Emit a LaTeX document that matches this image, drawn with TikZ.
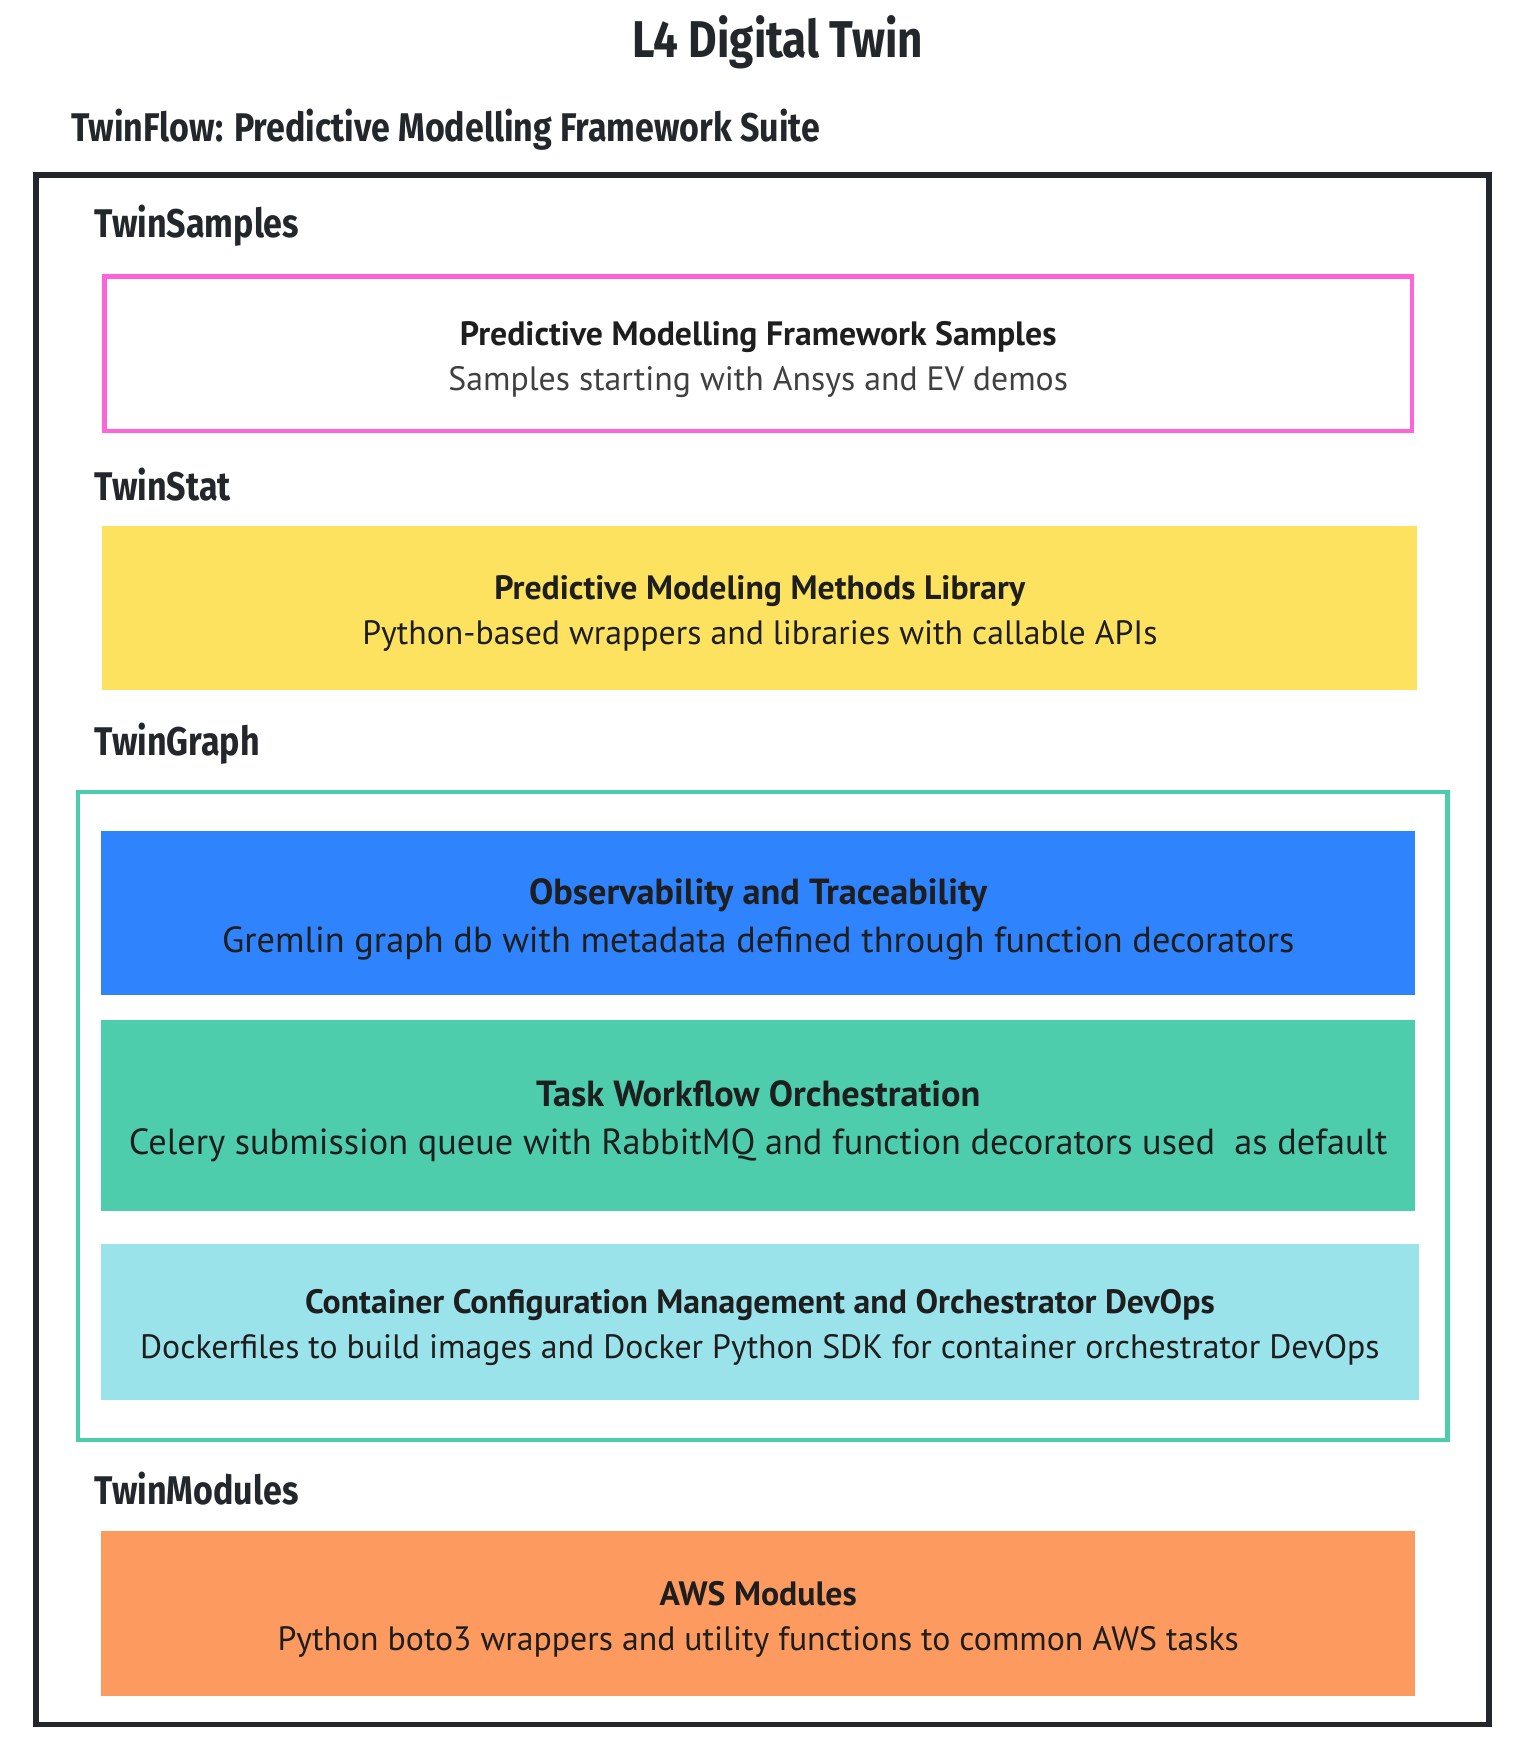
\documentclass[tikz,border=0pt]{standalone}
\usepackage{fontspec}
\setmainfont{PT Sans}
\newfontfamily\headfont[FakeStretch=0.85]{Fira Sans}
\definecolor{inkdark}{HTML}{23272B}
\definecolor{boxtext}{HTML}{1E1E1E}
\definecolor{pinkline}{HTML}{FF63D8}
\definecolor{yellowfill}{HTML}{FDE260}
\definecolor{tealline}{HTML}{4ECDAC}
\definecolor{bluefill}{HTML}{2F83FD}
\definecolor{cyanfill}{HTML}{9BE3EA}
\definecolor{orangefill}{HTML}{FD9A5F}
\newcommand{\boxhead}[1]{\rule{0pt}{1.05em}\textbf{#1}}
\tikzset{
  head/.style={anchor=west, inner sep=0pt, text=inkdark,
    font=\headfont\bfseries\fontsize{20.5}{24}\selectfont},
  layer/.style={inner sep=0pt, align=center, text=boxtext,
    font=\fontsize{17.3}{23}\selectfont},
  biglayer/.style={layer, font=\fontsize{18.6}{24.5}\selectfont}
}
\begin{document}
\begin{tikzpicture}[x=0.02cm,y=-0.02cm]
\useasboundingbox (0,0) rectangle (1370,1568);
% titles
\node[inner sep=0pt, text=inkdark, font=\headfont\bfseries\fontsize{26.5}{30}\selectfont] (title) at (700,38) {L4 Digital Twin};
\node[head] (suite) at (64,117) {TwinFlow: Predictive Modelling Framework Suite};
% outer frame
\node[draw=inkdark, line width=0.1cm, minimum width=26.16cm, minimum height=27.9cm] (frame) at (686.5,855) {};
% TwinSamples
\node[head] (samples) at (85,203) {TwinSamples};
\node[layer, draw=pinkline, line width=0.08cm, minimum width=23.54cm, minimum height=2.78cm] (pmfs) at (682.5,318.5)
  {\boxhead{Predictive Modelling Framework Samples}\\\color{black!75}Samples starting with Ansys and EV demos};
% TwinStat
\node[head] (stat) at (85,436) {TwinStat};
\node[layer, fill=yellowfill, minimum width=23.68cm, minimum height=2.96cm] (pmml) at (684,547)
  {\boxhead{Predictive Modeling Methods Library}\\Python-based wrappers and libraries with callable APIs};
% TwinGraph
\node[head] (graph) at (85,669) {TwinGraph};
\node[draw=tealline, line width=0.08cm, minimum width=24.66cm, minimum height=11.66cm] (graphbox) at (686.5,1004.5) {};
\node[biglayer, fill=bluefill, minimum width=23.66cm, minimum height=2.96cm] (obs) at (682.5,822)
  {\boxhead{Observability and Traceability}\\Gremlin graph db with metadata defined through function decorators};
\node[biglayer, fill=tealline, minimum width=23.66cm, minimum height=3.44cm] (task) at (682.5,1004)
  {\boxhead{Task Workflow Orchestration}\\Celery submission queue with RabbitMQ and function decorators used\ \ as default};
\node[layer, fill=cyanfill, minimum width=23.72cm, minimum height=2.8cm] (cont) at (684,1190)
  {\boxhead{Container Configuration Management and Orchestrator DevOps}\\Dockerfiles to build images and Docker Python SDK for container orchestrator DevOps};
% TwinModules
\node[head] (modules) at (85,1340) {TwinModules};
\node[layer, fill=orangefill, minimum width=23.66cm, minimum height=2.98cm] (aws) at (682.5,1452.5)
  {\boxhead{AWS Modules}\\Python boto3 wrappers and utility functions to common AWS tasks};
\end{tikzpicture}
\end{document}
